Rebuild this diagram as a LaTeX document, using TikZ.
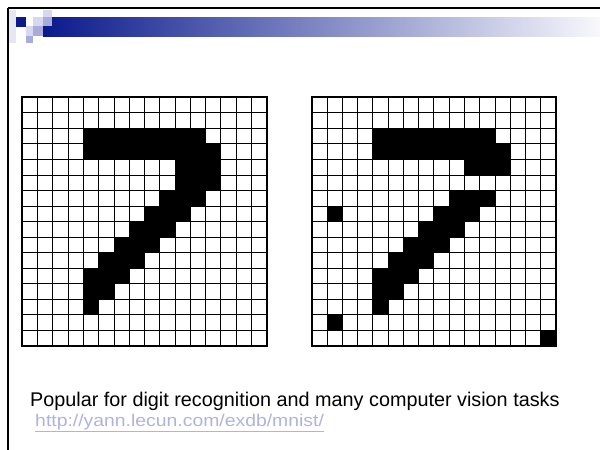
\documentclass[tikz,border=0pt]{standalone}
\usepackage{fontspec}
\setmainfont{Liberation Sans}
\definecolor{dkblue}{HTML}{0A1A8C}
\definecolor{barend}{HTML}{F8F8FC}
\definecolor{lightlav}{HTML}{D5D8EE}
\definecolor{medlav}{HTML}{A9ACDA}
\definecolor{stripc}{HTML}{E6E7F3}
\definecolor{urlc}{HTML}{B0B3DE}
\tikzset{
  frameline/.style={line width=2pt, black},
  gridline/.style={line width=0.9pt, black},
  gridborder/.style={line width=1.8pt, black},
  bodytext/.style={anchor=base west, inner sep=0pt, font=\fontsize{19.8}{22}\selectfont},
  urltext/.style={anchor=base west, inner sep=0pt, text=urlc, xscale=1.14, font=\fontsize{17}{20}\selectfont}
}
\newcommand{\mycell}[4]{% x0, y0, row, col
  \fill[black] ({#1+#4*15.28},{#2+#3*15.53}) rectangle ({#1+(#4+1)*15.28},{#2+(#3+1)*15.53});}
\newcommand{\myrow}[5]{% x0 y0 row from to
  \fill[black] ({#1+#4*15.28},{#2+#3*15.53}) rectangle ({#1+(#5+1)*15.28},{#2+(#3+1)*15.53});}
\newcommand{\mygrid}[2]{%
  \foreach \i in {1,...,15} {
    \draw[gridline] ({#1+\i*15.28},#2) -- ({#1+\i*15.28},{#2+16*15.53});
    \draw[gridline] (#1,{#2+\i*15.53}) -- ({#1+16*15.28},{#2+\i*15.53});
  }
  \draw[gridborder] (#1,#2) rectangle ({#1+16*15.28},{#2+16*15.53});}
\begin{document}
\begin{tikzpicture}[x=1pt,y=-1pt]
\useasboundingbox (0,0) rectangle (600,450);
\fill[white] (0,0) rectangle (600,450);
% header
\shade[left color=dkblue, right color=barend] (43,17) rectangle (600,36);
\fill[stripc] (9,10) rectangle (16,43);
\fill[dkblue] (16,17) rectangle (26,27);
\fill[lightlav] (33,17) rectangle (43,26);
\fill[lightlav] (43,10) rectangle (52,17);
\fill[medlav] (43,17) rectangle (52,26);
\fill[lightlav] (26,26) rectangle (33,36);
\fill[medlav] (33,26) rectangle (43,36);
\fill[medlav] (26,36) rectangle (33,43);
\draw[frameline] (8,8) -- (600,8);
\draw[frameline] (8,8) -- (8,450);
% left digit
\def\lx{22.3}\def\ly{97.3}
\myrow{\lx}{\ly}{2}{4}{11}
\myrow{\lx}{\ly}{3}{4}{12}
\myrow{\lx}{\ly}{4}{10}{12}
\myrow{\lx}{\ly}{5}{10}{12}
\myrow{\lx}{\ly}{6}{9}{11}
\myrow{\lx}{\ly}{7}{8}{10}
\myrow{\lx}{\ly}{8}{7}{9}
\myrow{\lx}{\ly}{9}{6}{8}
\myrow{\lx}{\ly}{10}{5}{7}
\myrow{\lx}{\ly}{11}{4}{6}
\myrow{\lx}{\ly}{12}{4}{5}
\myrow{\lx}{\ly}{13}{4}{4}
\mygrid{\lx}{\ly}
% right digit
\def\rx{311.7}
\myrow{\rx}{\ly}{2}{4}{11}
\myrow{\rx}{\ly}{3}{4}{12}
\myrow{\rx}{\ly}{4}{10}{12}
\myrow{\rx}{\ly}{6}{9}{11}
\myrow{\rx}{\ly}{7}{8}{10}
\myrow{\rx}{\ly}{8}{7}{9}
\myrow{\rx}{\ly}{9}{6}{8}
\myrow{\rx}{\ly}{10}{5}{7}
\myrow{\rx}{\ly}{11}{4}{6}
\myrow{\rx}{\ly}{12}{4}{5}
\myrow{\rx}{\ly}{13}{4}{4}
\mycell{\rx}{\ly}{7}{1}
\mycell{\rx}{\ly}{14}{1}
\mycell{\rx}{\ly}{15}{15}
\mygrid{\rx}{\ly}
% text
\node[bodytext] (caption) at (30,406) {Popular for digit recognition and many computer vision tasks};
\node[urltext] (url) at (35,426) {\underline{http://yann.lecun.com/exdb/mnist/}};
\end{tikzpicture}
\end{document}
